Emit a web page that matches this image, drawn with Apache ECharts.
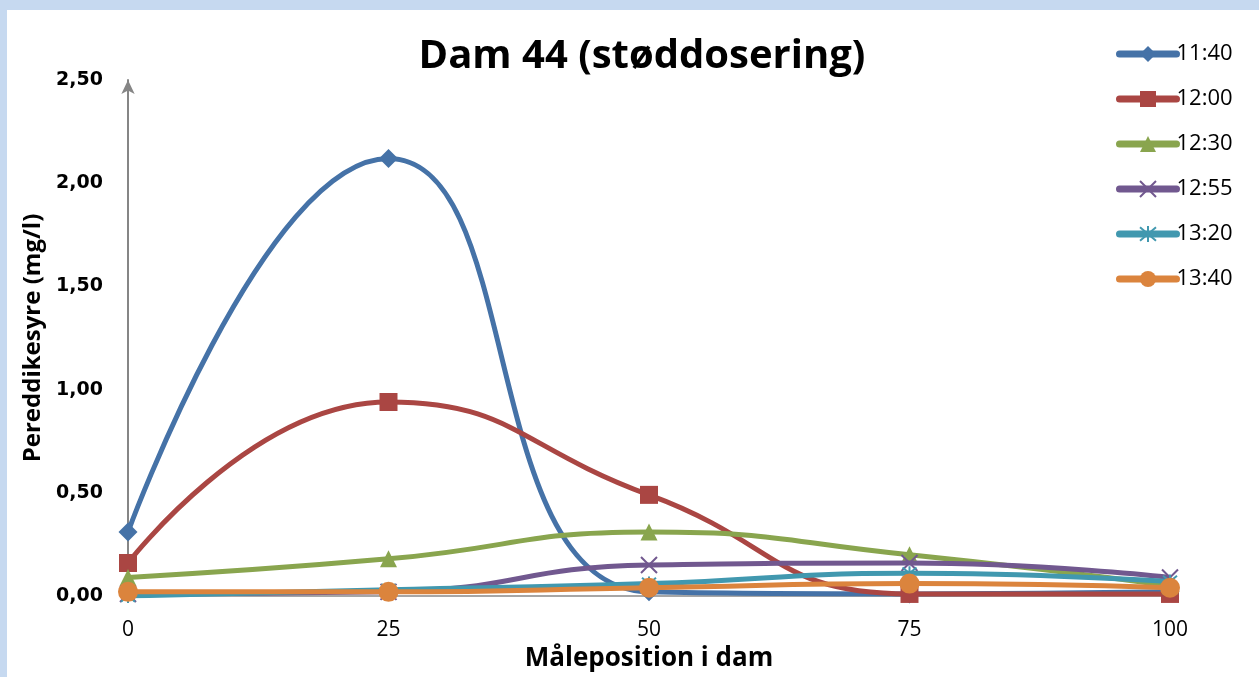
<!DOCTYPE html>
<html>
<head>
<meta charset="utf-8">
<script src="https://cdn.jsdelivr.net/npm/echarts@6/dist/echarts.min.js"></script>
<style>
  html, body { margin: 0; padding: 0; background: #ffffff; }
  #chart { width: 1259px; height: 677px; }
</style>
</head>
<body>
<div id="chart"></div>
<script>
// Measuring positions along the dam (x) and peracetic acid readings (mg/l) per sampling time
const positions = [0, 25, 50, 75, 100];
const times = ['11:40', '12:00', '12:30', '12:55', '13:20', '13:40'];
const v1140 = [0.31, 2.12, 0.02, 0.01, 0.02];
const v1200 = [0.16, 0.94, 0.49, 0.01, 0.01];
const v1230 = [0.09, 0.18, 0.31, 0.20, 0.05];
const v1255 = [0.01, 0.02, 0.15, 0.16, 0.09];
const v1320 = [0.00, 0.03, 0.06, 0.11, 0.07];
const v1340 = [0.02, 0.02, 0.04, 0.06, 0.04];
const yTicks = [0, 0.5, 1.0, 1.5, 2.0, 2.5];

const colors = ['#4572a7', '#aa4643', '#89a54e', '#71588f', '#4198af', '#db843d'];
const symbols = [
  'diamond',
  'rect',
  'triangle',
  'path://M0,0L10,10M10,0L0,10',
  'path://M0,0L10,10M10,0L0,10M5,-1L5,11',
  'circle'
];
const symbolSizes = [19, 18, 17, 16, 14, 20];
const values = [v1140, v1200, v1230, v1255, v1320, v1340];

const font = '"Open Sans", Lato, sans-serif';
const tickFont = '"DejaVu Sans", sans-serif';
const fmt = v => v.toFixed(2).replace('.', ',');

// cross-style markers are drawn as strokes, the rest as filled shapes
const markStyle = i => (i === 3 || i === 4)
  ? { color: 'rgba(0,0,0,0)', borderColor: colors[i], borderWidth: 2 }
  : { color: colors[i] };

const series = times.map((t, i) => ({
  name: t,
  type: 'line',
  smooth: 0.5,
  data: positions.map((x, k) => [x, values[i][k]]),
  symbol: symbols[i],
  symbolSize: symbolSizes[i],
  showAllSymbol: true,
  lineStyle: { color: colors[i], width: 5 },
  itemStyle: markStyle(i),
  emphasis: { disabled: true },
  z: 2 + i
}));

const chart = echarts.init(document.getElementById('chart'), null, { renderer: 'canvas' });
chart.setOption({
  animation: false,
  backgroundColor: '#ffffff',
  title: {
    text: 'Dam 44 (støddosering)',
    left: 637,
    textAlign: 'center',
    top: 32,
    textStyle: { fontFamily: font, fontWeight: 'bold', fontSize: 40, color: '#000' }
  },
  legend: {
    orient: 'vertical',
    left: 1111,
    top: 38,
    itemWidth: 57,
    itemHeight: 20,
    itemGap: 23,
    lineStyle: { width: 7, cap: 'round' },
    data: times.map((t, i) => ({ name: t, itemStyle: markStyle(i) })),
    textStyle: { fontFamily: font, fontSize: 22, color: '#000', padding: [0, 0, 0, -5] }
  },
  grid: { left: 128, right: 89, top: 80, bottom: 81, containLabel: false },
  xAxis: {
    type: 'value',
    min: 0,
    max: 100,
    interval: 25,
    name: 'Måleposition i dam',
    nameLocation: 'middle',
    nameGap: 42,
    nameTextStyle: { fontFamily: font, fontWeight: 'bold', fontSize: 26, color: '#000' },
    axisLine: { show: true, onZero: false, lineStyle: { color: '#a6a6a6', width: 2 } },
    axisTick: { show: false },
    splitLine: { show: false },
    axisLabel: { fontFamily: font, fontSize: 21, color: '#000', margin: 24 }
  },
  yAxis: {
    type: 'value',
    min: yTicks[0],
    max: yTicks[yTicks.length - 1],
    interval: 0.5,
    name: 'Pereddikesyre (mg/l)',
    nameLocation: 'middle',
    nameGap: 80,
    nameTextStyle: { fontFamily: font, fontWeight: 'bold', fontSize: 24, color: '#000' },
    axisLine: {
      show: true,
      symbol: ['none', 'arrow'],
      symbolSize: [10, 14],
      lineStyle: { color: '#868686', width: 2 }
    },
    axisTick: { show: false },
    splitLine: { show: false },
    axisLabel: { fontFamily: tickFont, fontWeight: 'bold', fontSize: 19, color: '#000', margin: 25, formatter: fmt }
  },
  graphic: [
    { type: 'rect', shape: { x: 0, y: 0, width: 1259, height: 10 }, style: { fill: '#c6d9f0' }, z: 100, silent: true },
    { type: 'rect', shape: { x: 0, y: 0, width: 7, height: 677 }, style: { fill: '#c6d9f0' }, z: 100, silent: true }
  ],
  series: series
});
</script>
</body>
</html>
